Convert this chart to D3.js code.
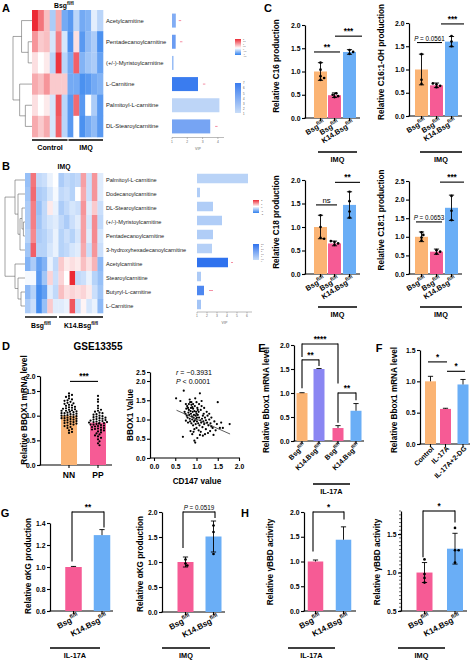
<!DOCTYPE html>
<html><head><meta charset="utf-8">
<script src="https://cdn.jsdelivr.net/npm/d3@7"></script>
<style>body{margin:0;background:#fff} svg{display:block}</style>
</head><body><svg id="c" width="476" height="660"></svg>
<script>
// ---------------- DATA ----------------
const heatARows = ["Acetylcarnitine","Pentadecanoylcarnitine","(+/-)-Myristoylcarnitine","L-Carnitine","Palmitoyl-L-carnitine","DL-Stearoylcarnitine"];
const heatAValues = [
 [2.0,1.3,0.6,-0.6,0.8,-1.0, -1.2,-0.5,-1.0,-0.9,-0.2,-0.5],
 [1.0,0.5,0.6,-0.3,1.2,-0.3, -1.3,0.3,-1.2,-0.8,-0.6,-1.3],
 [0.3,0.0,0.2,-0.5,1.9,-0.5, -1.0,1.5,-0.9,-0.7,-0.6,-1.1],
 [0.8,0.6,1.0,0.5,0.5,0.5, -1.0,-1.0,-1.3,-1.2,-1.0,-0.9],
 [0.3,0.0,0.2,-0.3,1.6,-0.5, -1.2,1.4,-1.2,0.0,-0.6,-1.2],
 [0.8,0.5,0.8,-0.3,1.5,-0.5, -1.2,0.0,-1.3,-1.0,-0.8,-1.2]
];
const heatAGroups = ["Control","IMQ"];
const vipA = [1.25,1.24,1.1,2.7,4.1,3.5];
const vipAColor = [4,5,3,7,1.5,4.5];
const vipAMark = [1.52,1.6,null,3.1,null,3.9];
const treeA = {h:10,c:[{h:5.5,c:[0,{h:2,c:[1,2]}]},{h:6.5,c:[3,{h:3.5,c:[4,5]}]}]};

const heatBRows = ["Palmitoyl-L-carnitine","Dodecanoylcarnitine","DL-Stearoylcarnitine","(+/-)-Myristoylcarnitine","Pentadecanoylcarnitine","3-hydroxyhexadecanoylcarnitine","Acetylcarnitine","Stearoylcarnitine","Butyryl-L-carnitine","L-Carnitine"];
const heatBValues = [
 [-1.0,1.3,-0.6,-0.5,-0.2,0.0, -0.8,-0.6,-0.7,-0.6,0.9,-0.5,1.0,-0.3],
 [-0.9,1.4,-0.8,-0.7,-0.4,-0.1, -0.6,-0.5,-0.7,0.0,0.8,-0.5,1.0,-0.3],
 [-0.8,1.2,-1.0,-0.6,0.2,-0.2, -0.8,-0.6,-0.4,-0.5,1.0,-0.3,0.5,-0.5],
 [-0.8,1.2,-0.9,-0.6,-0.4,-0.3, -0.6,-0.8,-0.5,-0.3,0.9,-0.4,1.1,-0.6],
 [-0.7,1.1,-0.8,-0.7,-0.5,-0.2, -0.7,-0.5,-0.7,-0.4,0.9,-0.3,1.1,-0.4],
 [-0.9,1.5,-0.7,-0.7,-0.4,-0.2, -0.7,-0.6,-0.4,-0.3,0.8,-0.5,1.0,-0.5],
 [-1.2,-0.8,-1.5,-1.2,-0.2,-0.6, 0.5,0.2,0.3,0.2,0.6,0.3,0.7,-1.1],
 [-0.1,-0.1,-1.6,-0.9,0.4,-0.5, 0.4,0.0,2.5,-0.6,-0.5,-0.2,-0.7,-1.0],
 [-1.1,-0.7,-1.8,-1.5,-0.3,-0.6, 0.6,0.3,0.4,0.3,0.4,0.2,-0.5,-0.9],
 [-0.8,-0.5,-1.8,-1.0,0.5,-0.3, -0.3,-0.2,1.6,-0.5,0.1,-0.4,-0.2,-1.1]
];
const heatBGroups = ["Bsg|fl/fl","K14.Bsg|fl/fl"];
const vipB = [6.1,1.3,2.6,3.5,2.6,2.5,4.1,1.4,1.7,1.4];
const vipBColor = [0.3,0.5,0.5,0.5,0.5,0.4,3.5,0.6,2.8,0.8];
const vipBMark = [null,null,null,null,null,null,[4.4,4.6],null,[2.2,2.6],null];
const treeB = {h:10,c:[{h:5,c:[0,{h:3.5,c:[1,{h:2.5,c:[{h:1.5,c:[2,{h:0.8,c:[3,4]}]},5]}]}]},{h:5,c:[6,{h:3.5,c:[7,{h:2,c:[8,9]}]}]}]};

const cLabels = ["Bsg|fl/fl","Bsg|fl/fl","K14.Bsg|fl/fl"];
const c16Mean = [1.0,0.49,1.42], c16SD = [0.19,0.05,0.05];
const c16Dots = [[1.19,1.04,0.9,0.86,0.82],[0.45,0.47,0.5,0.53],[1.38,1.42,1.46]];
const c161Mean = [1.0,0.66,1.6], c161SD = [0.33,0.05,0.11];
const c161Dots = [[1.33,0.78,0.69],[0.62,0.65,0.68,0.7],[1.5,1.6,1.72]];
const c18Mean = [1.0,0.65,1.47], c18SD = [0.25,0.05,0.28];
const c18Dots = [[1.25,1.0,0.77,0.75],[0.62,0.65,0.68,0.7],[1.2,1.33,1.55,1.75]];
const c181Mean = [1.0,0.6,1.78], c181SD = [0.13,0.07,0.34];
const c181Dots = [[0.9,0.98,1.05,1.12],[0.55,0.6,0.64],[1.45,1.7,2.1]];

const dGroups = ["NN","PP"];
const dNN = [1.45,1.42,1.40,1.38,1.35,1.33,1.31,1.30,1.28,1.26,1.25,1.24,1.22,1.21,1.20,1.18,1.17,1.16,1.15,1.14,1.13,1.12,1.11,1.10,1.10,1.09,1.08,1.07,1.06,1.05,1.05,1.04,1.03,1.02,1.01,1.00,1.00,0.99,0.98,0.97,0.96,0.95,0.95,0.94,0.93,0.92,0.91,0.90,0.89,0.88,0.87,0.86,0.85,0.84,0.83,0.82,0.80,0.79,0.77,0.75,0.73,0.70,0.67,0.65];
const dPP = [1.40,1.33,1.28,1.20,1.15,1.12,1.10,1.08,1.06,1.05,1.03,1.02,1.00,0.99,0.98,0.97,0.96,0.95,0.94,0.93,0.92,0.91,0.90,0.90,0.89,0.88,0.87,0.87,0.86,0.85,0.85,0.84,0.83,0.82,0.82,0.81,0.80,0.79,0.78,0.77,0.76,0.75,0.74,0.73,0.72,0.71,0.70,0.68,0.66,0.64,0.62,0.60,0.58,0.55,0.52,0.48,0.44,0.40];
const dMeans = [1.0,0.86];
const scatterX = [0.52,0.62,0.70,0.75,0.78,0.80,0.82,0.85,0.88,0.90,0.92,0.95,0.97,1.00,1.02,1.05,1.08,1.10,1.12,1.15,0.72,0.74,0.76,0.79,0.81,0.83,0.84,0.86,0.87,0.89,0.91,0.93,0.94,0.96,0.98,0.99,1.01,1.03,1.04,1.06,1.07,1.09,1.11,1.13,1.14,1.16,1.18,1.20,1.22,1.25,1.28,1.30,1.32,1.35,1.38,1.42,1.45,1.50,1.55,1.62,1.78,1.40,1.27,1.20,1.15,1.10,1.05,1.00,0.95,0.92,0.88,0.85,0.80,0.75,0.68,0.95,0.97,1.02,1.08,0.90,0.86,0.93,0.98,1.00,1.03,0.88,0.92,0.84,0.96,1.12,1.18,1.24,1.30,1.35,1.48,1.58,1.22,1.17,0.90,0.94,0.99,1.06,0.77,0.82,1.26,1.33,0.87,1.01];
const scatterY = [1.55,1.48,1.75,1.40,1.35,1.30,1.25,1.45,1.38,1.32,1.28,1.22,1.55,1.45,1.30,1.20,1.68,1.25,1.35,1.10,1.20,1.15,1.28,1.05,1.18,1.12,1.02,1.22,1.15,1.08,1.20,1.05,1.12,0.98,1.10,1.02,0.95,1.12,0.90,1.05,0.85,0.98,0.92,1.02,0.80,0.95,0.88,1.05,0.75,0.92,0.85,1.00,0.70,0.82,0.78,0.95,0.72,1.45,0.78,0.78,0.88,0.60,0.65,0.62,0.58,0.68,0.72,0.78,0.75,0.85,0.90,0.95,0.92,0.97,0.55,0.45,0.40,0.52,0.60,0.62,0.70,0.68,0.88,1.15,1.25,1.45,1.40,1.52,1.35,1.48,1.30,1.20,1.15,1.05,0.88,0.92,0.98,1.15,1.00,0.95,1.20,1.40,1.10,1.40,1.10,0.90,1.30,1.05];
const scatterFit = {slope:-0.49, intercept:1.50, x0:0.53, x1:1.79};

const eLabels = ["Bsg|fl/fl","K14.Bsg|fl/fl","Bsg|fl/fl","K14.Bsg|fl/fl"];
const eMean = [1.0,1.5,0.27,0.63], eErr = [0.006,0.01,0.05,0.15];
const fLabels = ["Control","IL-17A","IL-17A+2-DG"];
const fMean = [1.0,0.56,0.95], fErr = [0.08,0.01,0.08];
const ghLabels = ["Bsg|fl/fl","K14.Bsg|fl/fl"];
const g1Mean = [1.0,1.29], g1Err = [0.005,0.05];
const g2Mean = [1.0,1.51], g2SD = [0.1,0.31], g2Dots = [[1.05,0.97,0.93],[1.16,1.6,1.73]];
const h1Mean = [1.0,1.44], h1Err = [0.03,0.26];
const h2Mean = [1.0,1.31], h2SD = [0.13,0.2], h2Dots = [[1.17,0.98,0.93,0.87],[1.13,1.29,1.29,1.58]];

const ORANGE="#FBB474", PINK="#F65B95", BLUE="#6AAEF6", PURPLE="#8A86F2";

// ---------------- HELPERS ----------------
const svg = d3.select('#c');
const FF = '"Liberation Sans", Arial, Helvetica, sans-serif';
svg.attr('font-family', FF);

function rich(t, s, size){
  const parts = s.split('|');
  const segs = parts[0].split('~');
  segs.forEach((sg,i)=>{ if(sg.length){ const sp=t.append('tspan').text(sg); if(i%2===1) sp.attr('font-style','italic'); }});
  if(parts[1]) t.append('tspan').attr('dy',-size*0.42).attr('font-size',size*0.68).text(parts[1]);
}
function T(g,x,y,s,o={}){
  const size=o.size||7;
  const t=g.append('text').attr('font-size',size)
    .attr('font-weight',o.bold===false?'normal':'bold').attr('text-anchor',o.anchor||'middle')
    .attr('fill',o.fill||'#000');
  if(o.rotate!=null) t.attr('transform',`translate(${x},${y}) rotate(${o.rotate})`);
  else t.attr('x',x).attr('y',y);
  rich(t,s,size);
  return t;
}
function L(g,x1,y1,x2,y2,w=1,c='#000'){
  return g.append('line').attr('x1',x1).attr('y1',y1).attr('x2',x2).attr('y2',y2).attr('stroke',c).attr('stroke-width',w);
}
function swarm(vals,y,cx,r,maxOff){
  const pts=[];
  vals.forEach(v=>{
    const py=y(v); let off=0;
    for(let k=0;k<60;k++){
      const cand=k===0?0:(k%2?1:-1)*Math.ceil(k/2)*r*1.3;
      if(Math.abs(cand)>maxOff){ off=(k%2?1:-1)*maxOff*((k*7)%10)/10; break; }
      if(pts.every(p=>(p.x-(cx+cand))**2+(p.y-py)**2>=(1.9*r)**2)){ off=cand; break; }
    }
    pts.push({x:cx+off,y:py});
  });
  return pts;
}

function barChart(o){
  const g=svg.append('g');
  const y=d3.scaleLinear().domain(o.domain).range(o.range);
  const y0=o.range[0];
  const axis=d3.axisLeft(y).tickValues(o.ticks).tickFormat(d3.format('.1f')).tickSize(3).tickSizeOuter(0);
  const ga=g.append('g').attr('transform',`translate(${o.ax},0)`).call(axis);
  ga.select('.domain').attr('stroke-width',1.2);
  ga.selectAll('.tick line').attr('stroke-width',1.1);
  ga.selectAll('.tick text').attr('font-size',o.tickFont||6.8).attr('font-weight','bold').attr('font-family',FF).attr('x',-4.5).attr('fill','#000');
  if(o.minor){
    o.minor.forEach(v=>L(g,o.ax-2,y(v),o.ax,y(v),0.6));
  }
  L(g,o.ax-0.6,y0,o.xEnd,y0,1.2);
  o.means.forEach((m,i)=>{
    const cx=o.centers[i];
    g.append('rect').attr('x',cx-o.w/2).attr('width',o.w).attr('y',y(m)).attr('height',y0-y(m)).attr('fill',o.colors[i]);
    L(g,cx,y0,cx,y0+3,1.1);
  });
  o.means.forEach((m,i)=>{
    const cx=o.centers[i], cw=o.cap||2.6;
    if(o.sd){
      const a=y(m-o.sd[i]), b=y(m+o.sd[i]);
      L(g,cx,a,cx,b,0.9); L(g,cx-cw,a,cx+cw,a,0.9); L(g,cx-cw,b,cx+cw,b,0.9);
    } else if(o.err){
      const b=y(m+o.err[i]);
      L(g,cx,y(m),cx,b,0.9); L(g,cx-cw,b,cx+cw,b,0.9);
    }
  });
  if(o.dots){
    o.dots.forEach((arr,i)=>{
      swarm(arr,y,o.centers[i],1.4,4).forEach(p=>g.append('circle').attr('cx',p.x).attr('cy',p.y).attr('r',o.dotR||1.35).attr('fill','#000'));
    });
  }
  o.labels.forEach((s,i)=>{
    T(g,o.centers[i]+(o.ldx||3),y0+(o.ldy||6),s,{size:o.lsize||6.8,anchor:'end',rotate:o.angle});
  });
  if(o.group){ const gr=o.group; L(g,gr.x1,gr.y,gr.x2,gr.y,1.3); T(g,(gr.x1+gr.x2)/2,gr.ty,gr.text,{size:7.3}); }
  if(o.ylabel){ T(g,o.ylabel.x,o.ylabel.y,o.ylabel.text,{size:o.ylabel.size||8.2,rotate:-90}); }
  (o.brackets||[]).forEach(b=>{
    const yy=y(b.v);
    L(g,b.x1,yy,b.x2,yy,1.1);
    if(b.l1!=null) L(g,b.x1,yy-0.5,b.x1,y(b.l1),1.1);
    if(b.l2!=null) L(g,b.x2,yy-0.5,b.x2,y(b.l2),1.1);
    T(g,(b.x1+b.x2)/2+(b.dx||0),yy-(b.ty||2),b.text,{size:b.size||8.2,bold:b.bold!==false});
  });
  return y;
}

function heatmap(o){
  const g=svg.append('g');
  const nr=o.values.length, nc=o.values[0].length;
  const x=d3.scaleLinear().domain([0,nc]).range([o.x0,o.x1]);
  const y=d3.scaleLinear().domain([0,nr]).range([o.y0,o.y1]);
  o.values.forEach((row,r)=>row.forEach((v,c)=>{
    g.append('rect').attr('x',x(c)).attr('y',y(r)).attr('width',x(c+1)-x(c)+0.3).attr('height',y(r+1)-y(r)+0.3).attr('fill',o.color(v));
  }));
  o.rows.forEach((s,r)=>T(g,o.x1+3,(y(r)+y(r+1))/2+2,s,{size:o.rsize||5.7,anchor:'start',bold:false,fill:'#222'}));
  const hx=d3.scaleLinear().domain([0,o.treeH]).range([o.x0,o.dx0]);
  function draw(n){
    if(typeof n==='number') return {y:(y(n)+y(n+1))/2,x:o.x0};
    const a=draw(n.c[0]), b=draw(n.c[1]); const xx=hx(n.h);
    L(g,xx,a.y,xx,b.y,0.6,'#666'); L(g,xx,a.y,a.x,a.y,0.6,'#666'); L(g,xx,b.y,b.x,b.y,0.6,'#666');
    return {y:(a.y+b.y)/2,x:xx};
  }
  draw(o.tree);
  return {x,y};
}
function vipBars(o){
  const g=svg.append('g');
  const x=d3.scaleLinear().domain(o.domain).range(o.range);
  o.values.forEach((v,i)=>{
    g.append('rect').attr('x',x(o.domain[0])).attr('y',o.rowY(i)-o.h/2).attr('width',x(v)-x(o.domain[0])).attr('height',o.h).attr('fill',o.color(o.cvals[i]));
    const m=o.marks[i];
    if(m!=null){ const a=Array.isArray(m)?m:[m-0.08,m+0.08]; L(g,x(a[0]),o.rowY(i),x(a[1]),o.rowY(i),0.7,'#f0607e'); }
  });
  L(g,x(o.domain[0]),o.axisY,o.range[1],o.axisY,0.5,'#777');
  o.ticks.forEach(t=>{ L(g,x(t),o.axisY,x(t),o.axisY+1.5,0.5,'#777'); T(g,x(t),o.axisY+5,String(t),{size:3.3,bold:false,fill:'#666'}); });
  T(g,(o.range[0]+o.range[1])/2,o.axisY+12,'VIP',{size:3.6,bold:false,fill:'#666'});
}
let gid=0;
function colorbar(x,y,w,h,stops,labels,ls){
  const id='grad'+(gid++);
  const lg=svg.append('defs').append('linearGradient').attr('id',id).attr('x1',0).attr('x2',0).attr('y1',0).attr('y2',1);
  stops.forEach(s=>lg.append('stop').attr('offset',s[0]).attr('stop-color',s[1]));
  svg.append('rect').attr('x',x).attr('y',y).attr('width',w).attr('height',h).attr('fill',`url(#${id})`);
  const step=(h+1)/(labels.length-1);
  labels.forEach((s,i)=>T(svg,x+w+2,y+0.3+i*step+ls*0.35,s,{size:ls,bold:false,anchor:'start',fill:'#555'}));
}

// ---------------- PANEL A ----------------
const colA=d3.scaleLinear().domain([-1.5,0,2]).range(["#2f80ee","#ffffff","#ec2a35"]).clamp(true);
const hmA=heatmap({values:heatAValues,rows:heatARows,x0:32,x1:103,y0:10,y1:137,color:colA,tree:treeA,treeH:10,dx0:13,rsize:5.8});
T(svg,64,8,"Bsg|fl/fl",{size:6.8});
L(svg,32,140,67.5,140,1.4); L(svg,68.5,140,103,140,1.4);
T(svg,50,150,heatAGroups[0],{size:7.2}); T(svg,86,150,heatAGroups[1],{size:7.2});
const vipColA=d3.scaleLinear().domain([1,7]).range(["#c9ddf8","#3a7cef"]);
vipBars({values:vipA,cvals:vipAColor,marks:vipAMark,domain:[1,4.4],range:[172,224],rowY:i=>(hmA.y(i)+hmA.y(i+1))/2,h:14,color:vipColA,axisY:137.5,ticks:[1,2,3,4]});
colorbar(235,39,6,16,[[0,"#ec2a35"],[0.57,"#ffffff"],[1,"#2f80ee"]],["2","1.5","1","0.5","0","-0.5","-1","-1.5"],1.9);
colorbar(235,83,6,30,[[0,"#3a7cef"],[1,"#c9ddf8"]],["7","6","5","4","3","2","1"],2.8);

// ---------------- PANEL B ----------------
const colB=d3.scaleLinear().domain([-2,0,2]).range(["#2f80ee","#ffffff","#ec2a35"]).clamp(true);
const hmB=heatmap({values:heatBValues,rows:heatBRows,x0:25,x1:103,y0:173,y1:313,color:colB,tree:treeB,treeH:10,dx0:5,rsize:5.6});
T(svg,64,169,"IMQ",{size:6.8});
L(svg,25,317,57,317,1.4); L(svg,59,317,103,317,1.4);
T(svg,41,328,heatBGroups[0],{size:6.8}); T(svg,81,328,heatBGroups[1],{size:6.8});
const vipColB=d3.scaleLinear().domain([0,3.5]).range(["#c6dcf8","#2f72ee"]);
vipBars({values:vipB,cvals:vipBColor,marks:vipBMark,domain:[1,6.5],range:[197,252],rowY:i=>(hmB.y(i)+hmB.y(i+1))/2-1.5,h:9.5,color:vipColB,axisY:312,ticks:[1,2,3,4,5,6]});
colorbar(253,200,6,13,[[0,"#ec2a35"],[0.5,"#ffffff"],[1,"#2f80ee"]],["2","1","0","-1","-2"],2.5);
colorbar(253,244,6,16,[[0,"#2f72ee"],[1,"#c6dcf8"]],["3.5","3","2.5","2","1.5","1","0.5","0"],1.9);

// ---------------- PANEL C ----------------
const cCols=[ORANGE,PINK,BLUE];
barChart({ax:305,domain:[0,2],range:[118,25],ticks:[0,0.5,1,1.5,2],centers:[320.5,334.5,349.5],w:13,xEnd:360,
  means:c16Mean,sd:c16SD,dots:c16Dots,colors:cCols,labels:cLabels,angle:-32,ldx:5,ldy:6,lsize:7.3,
  group:{x1:318,x2:357,y:152,ty:162,text:"IMQ"},ylabel:{x:279,y:66,text:"Relative C16 production"},
  brackets:[{x1:314,x2:340,v:1.42,text:"**"},{x1:335,x2:362,v:1.76,text:"***"}]});
barChart({ax:409,domain:[0,2],range:[116,23],ticks:[0,0.5,1,1.5,2],centers:[421.5,436.5,451.5],w:13,xEnd:462,
  means:c161Mean,sd:c161SD,dots:c161Dots,colors:cCols,labels:cLabels,angle:-32,ldx:5,ldy:6,lsize:7.3,
  group:{x1:420,x2:462,y:152,ty:162,text:"IMQ"},ylabel:{x:384,y:62,text:"Relative C16:1-OH production"},
  brackets:[{x1:417,x2:442,v:1.58,text:"~P~ = 0.0561",size:6.3,bold:false},{x1:441,x2:464,v:1.98,text:"***"}]});
barChart({ax:305,domain:[0,2],range:[274,180],ticks:[0,0.5,1,1.5,2],centers:[320.5,334.5,349.5],w:13,xEnd:360,
  means:c18Mean,sd:c18SD,dots:c18Dots,colors:cCols,labels:cLabels,angle:-32,ldx:5,ldy:6,lsize:7.3,
  group:{x1:318,x2:357,y:307,ty:317,text:"IMQ"},ylabel:{x:279,y:222,text:"Relative C18 production"},
  brackets:[{x1:316,x2:337,v:1.47,text:"ns",size:7.8,bold:false},{x1:335,x2:360,v:1.95,text:"**"}]});
barChart({ax:409,domain:[0,2.5],range:[274,181],ticks:[0,0.5,1,1.5,2,2.5],centers:[421.5,436.5,451.5],w:13,xEnd:462,
  means:c181Mean,sd:c181SD,dots:c181Dots,colors:cCols,labels:cLabels,angle:-32,ldx:5,ldy:6,lsize:7.3,
  group:{x1:420,x2:462,y:307,ty:317,text:"IMQ"},ylabel:{x:384,y:220,text:"Relative C18:1 production"},
  brackets:[{x1:416,x2:442,v:1.4,text:"~P~ = 0.0653",size:6.3,bold:false},{x1:440,x2:464,v:2.47,text:"***"}]});

// ---------------- PANEL D ----------------
T(svg,98,350,"GSE13355",{size:10});
const yD=barChart({ax:40,domain:[0,1.5,2],range:[465,391,376],ticks:[0,0.5,1,1.5,2],centers:[69,98],w:16,xEnd:112,
  means:dMeans,colors:[ORANGE,PINK],labels:[],angle:0,
  ylabel:{x:27,y:410,text:"Relative BBOX1 mRNA level"},
  brackets:[{x1:70,x2:98,v:1.82,text:"***"}]});
[dNN,dPP].forEach((arr,i)=>{
  swarm(arr,yD,[69,98][i],1.15,9).forEach(p=>svg.append('circle').attr('cx',p.x).attr('cy',p.y).attr('r',1.1).attr('fill','#000'));
});
dGroups.forEach((s,i)=>T(svg,[69,98][i],478,s,{size:8.5}));
(function(){
  const g=svg.append('g');
  const x=d3.scaleLinear().domain([0,2]).range([154,239]);
  const y=d3.scaleLinear().domain([0,2,2.5]).range([458,381,372]);
  const ay=d3.axisLeft(y).tickValues([0,0.5,1,1.5,2,2.5]).tickFormat(d3.format('.1f')).tickSize(3).tickSizeOuter(0);
  const ga=g.append('g').attr('transform','translate(150,0)').call(ay);
  const ax=d3.axisBottom(x).tickValues([0,0.5,1,1.5,2]).tickFormat(d3.format('.1f')).tickSize(3).tickSizeOuter(0);
  const gb=g.append('g').attr('transform','translate(0,458)').call(ax);
  gb.select('.domain').attr('d','M150,0H240');
  [ga,gb].forEach(a=>{ a.select('.domain').attr('stroke-width',1.2); a.selectAll('.tick line').attr('stroke-width',1.1);
    a.selectAll('.tick text').attr('font-size',6.8).attr('font-weight','bold').attr('font-family',FF).attr('fill','#000'); });
  ga.selectAll('.tick text').attr('x',-4.5);
  scatterX.forEach((v,i)=>g.append('circle').attr('cx',x(v)).attr('cy',y(scatterY[i])).attr('r',1.1).attr('fill','#000'));
  const f=scatterFit;
  L(g,x(f.x0),y(f.intercept+f.slope*f.x0),x(f.x1),y(f.intercept+f.slope*f.x1),0.8,'#333');
  T(g,176,375,"~r~ = −0.3931",{size:7,bold:false,anchor:'start'});
  T(g,176,384,"~P~ < 0.0001",{size:7,bold:false,anchor:'start'});
  T(g,197,484,"CD147 value",{size:8.2});
  T(g,133,415,"BBOX1 Value",{size:8.2,rotate:-90});
})();

// ---------------- PANEL E ----------------
barChart({ax:294,domain:[0,2],range:[441,345],ticks:[0,0.5,1,1.5,2],centers:[302,319,338,356],w:11,xEnd:364,
  means:eMean,err:eErr,colors:[ORANGE,PURPLE,PINK,BLUE],labels:eLabels,angle:-45,ldx:4,ldy:5,lsize:7,
  group:{x1:313,x2:350,y:484,ty:494,text:"IL-17A"},ylabel:{x:269,y:400,text:"Relative Bbox1 mRNA level"},
  brackets:[{x1:302,x2:338,v:2.02,l1:1.75,l2:1.2,text:"****"},{x1:302,x2:319,v:1.69,l1:1.1,l2:1.56,text:"**"},{x1:338,x2:356,v:1.0,l1:0.38,l2:0.85,text:"**"}]});
// ---------------- PANEL F ----------------
barChart({ax:420,domain:[0,1.5],range:[444,350],ticks:[0,0.5,1,1.5],centers:[430.5,445.5,463],w:11,xEnd:470,
  means:fMean,err:fErr,colors:[ORANGE,PINK,BLUE],labels:fLabels,angle:-45,ldx:4,ldy:5,lsize:7,
  ylabel:{x:397,y:400,text:"Relative Bbox1 mRNA level"},
  brackets:[{x1:428,x2:447,v:1.31,text:"*"},{x1:447,x2:465,v:1.16,text:"*"}]});

// ---------------- PANEL G ----------------
barChart({ax:50,domain:[0.6,1.4],range:[611,523],ticks:[0.6,0.8,1.0,1.2,1.4],centers:[73.5,102],w:16.5,xEnd:113,
  means:g1Mean,err:g1Err,colors:[PINK,BLUE],labels:ghLabels,angle:-28,ldx:6,ldy:7,lsize:8,
  group:{x1:50,x2:100,y:648,ty:658,text:"IL-17A"},ylabel:{x:31,y:566,text:"Relative αKG production"},
  brackets:[{x1:72,x2:104,v:1.5,l1:1.05,l2:1.36,text:"**"}]});
barChart({ax:162,domain:[0,2],range:[612,512],ticks:[0,0.5,1,1.5,2],centers:[185.5,213.5],w:16,xEnd:225,
  means:g2Mean,sd:g2SD,dots:g2Dots,colors:[PINK,BLUE],labels:ghLabels,angle:-28,ldx:6,ldy:7,lsize:8,
  group:{x1:162,x2:210,y:648,ty:658,text:"IMQ"},ylabel:{x:143,y:564,text:"Relative αKG production"},
  brackets:[{x1:183,x2:215,v:2.0,l1:1.28,l2:1.88,text:"~P~ = 0.0519",size:6.3,bold:false}]});
// ---------------- PANEL H ----------------
barChart({ax:304,domain:[0,2],range:[611,512],ticks:[0,0.5,1,1.5,2],centers:[315.5,343.5],w:15.5,xEnd:356,
  means:h1Mean,err:h1Err,colors:[PINK,BLUE],labels:ghLabels,angle:-28,ldx:6,ldy:7,lsize:8,
  group:{x1:288,x2:335,y:648,ty:658,text:"IL-17A"},ylabel:{x:273,y:562,text:"Relative γBBD activity"},
  brackets:[{x1:313,x2:344,v:2.0,l1:1.2,l2:1.85,text:"*"}]});
const h2Minor=d3.range(0.5,1.801,0.05);
barChart({ax:401,domain:[0.5,1.8],range:[611,511],ticks:[0.5,1.0,1.5],minor:h2Minor,centers:[424.5,455],w:16,xEnd:467,
  means:h2Mean,sd:h2SD,dots:h2Dots,colors:[PINK,BLUE],labels:ghLabels,angle:-28,ldx:6,ldy:7,lsize:8,
  group:{x1:398,x2:445,y:648,ty:658,text:"IMQ"},ylabel:{x:380,y:562,text:"Relative γBBD activity"},
  brackets:[{x1:423,x2:455,v:1.8,l1:1.2,l2:1.65,text:"*"}]});

// ---------------- PANEL LETTERS ----------------
[["A",6,12],["B",6,170],["C",268,12],["D",6,350],["E",262,352],["F",379,352],["G",5,517],["H",245,517]].forEach(d=>T(svg,d[1],d[2],d[0],{size:11}));
</script></body></html>
